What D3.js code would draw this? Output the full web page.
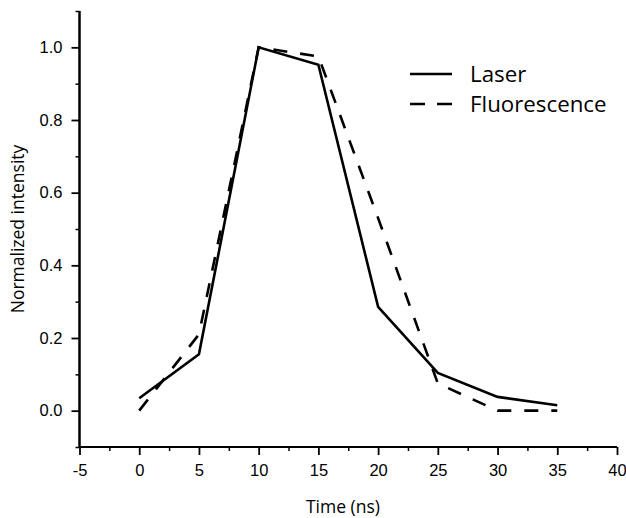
<!DOCTYPE html>
<html><head><meta charset="utf-8">
<script src="https://cdn.jsdelivr.net/npm/d3@7"></script>
<style>body{margin:0;background:#fff}svg{display:block}</style>
</head><body>
<svg id="c" width="626" height="518"></svg>
<script>
const times = [0, 5, 10, 15, 20, 25, 30, 35];
const laser = [0.034, 0.155, 1.0, 0.952, 0.286, 0.104, 0.038, 0.015];
const fluorescence = [0.0, 0.21, 1.0, 0.975, 0.53, 0.075, 0.0, 0.0];
const xTicks = [-5, 0, 5, 10, 15, 20, 25, 30, 35, 40];
const yTicks = [0.0, 0.2, 0.4, 0.6, 0.8, 1.0];
const seriesNames = ["Laser", "Fluorescence"];

const svg = d3.select("#c");
const x = d3.scaleLinear().domain([-5, 40]).range([79.5, 617]);
const y = d3.scaleLinear().domain([-0.1, 1.1]).range([447, 11]);
const tickFont = "'Liberation Sans', Arial, sans-serif";
const titleFont = "'Open Sans', sans-serif";

const xMinor = d3.range(-2.5, 40, 5);
const yMinor = d3.range(-0.1, 1.11, 0.2).map(v => +v.toFixed(2));

const gx = svg.append("g").attr("transform", `translate(0,${y(-0.1)})`);
gx.call(d3.axisBottom(x).tickValues(xMinor).tickSize(4).tickFormat(""))
gx.selectAll(".tick line").attr("stroke-width", 1.5);
const gx2 = svg.append("g").attr("transform", `translate(0,${y(-0.1)})`)
  .call(d3.axisBottom(x).tickValues(xTicks).tickSize(8).tickPadding(9).tickFormat(d => String(d)));
gx2.selectAll(".tick line").attr("stroke-width", 1.8);
gx2.selectAll("text").attr("font-family", tickFont).attr("font-size", 16.5).attr("fill", "#000");
[gx, gx2].forEach(g => g.select(".domain").attr("stroke-width", 2).attr("d", `M${x(-5)},0H${x(40)}`));

const gy = svg.append("g").attr("transform", `translate(${x(-5)},0)`)
  .call(d3.axisLeft(y).tickValues(yMinor).tickSize(4).tickFormat(""));
gy.selectAll(".tick line").attr("stroke-width", 1.5);
const gy2 = svg.append("g").attr("transform", `translate(${x(-5)},0)`)
  .call(d3.axisLeft(y).tickValues(yTicks).tickSize(8).tickPadding(9).tickFormat(d3.format(".1f")));
gy2.selectAll(".tick line").attr("stroke-width", 1.8);
gy2.selectAll("text").attr("font-family", tickFont).attr("font-size", 16.5).attr("fill", "#000");
[gy, gy2].forEach(g => g.select(".domain").attr("stroke-width", 2).attr("d", `M0,${y(-0.1)}V${y(1.1)}`));

const line = d3.line().x(d => x(d[0])).y(d => y(d[1]));
svg.append("path").datum(times.map((t, i) => [t, fluorescence[i]]))
  .attr("d", line).attr("fill", "none").attr("stroke", "#000")
  .attr("stroke-width", 2.6).attr("stroke-dasharray", "14,13");
svg.append("path").datum(times.map((t, i) => [t, laser[i]]))
  .attr("d", line).attr("fill", "none").attr("stroke", "#000")
  .attr("stroke-width", 2.6);

const leg = svg.append("g");
seriesNames.forEach((name, i) => {
  const yy = 74 + i * 30;
  leg.append("line").attr("x1", 410).attr("x2", 452).attr("y1", yy).attr("y2", yy)
    .attr("stroke", "#000").attr("stroke-width", 2.6)
    .attr("stroke-dasharray", i === 1 ? "15,12" : null);
  leg.append("text").attr("x", 470).attr("y", yy).attr("dy", "0.35em")
    .attr("font-family", titleFont).attr("font-size", 22.3).text(name);
});

svg.append("text").attr("x", 343).attr("y", 507).attr("dy", "0.35em")
  .attr("text-anchor", "middle").attr("font-family", titleFont).attr("font-size", 17.5)
  .text("Time (ns)");
svg.append("text").attr("transform", `translate(18,229) rotate(-90)`).attr("dy", "0.35em")
  .attr("text-anchor", "middle").attr("font-family", titleFont).attr("font-size", 17.5)
  .text("Normalized intensity");
</script>
</body></html>
